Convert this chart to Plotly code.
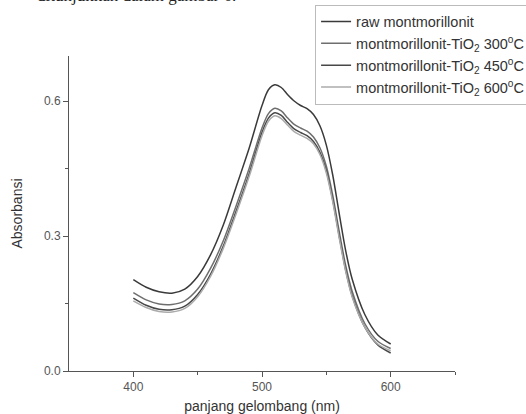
import plotly.graph_objects as go

wavelength = [400, 410, 420, 430, 440, 450, 460, 470, 480, 490, 500, 505, 510, 515, 520,
              525, 530, 535, 540, 545, 550, 555, 560, 565, 570, 580, 590, 600]

raw = [0.203, 0.186, 0.176, 0.173, 0.182, 0.210, 0.258, 0.325, 0.410, 0.495, 0.590, 0.625, 0.636, 0.630, 0.614,
       0.600, 0.590, 0.583, 0.570, 0.545, 0.502, 0.435, 0.350, 0.268, 0.205, 0.125, 0.080, 0.060]
tio2_300 = [0.174, 0.158, 0.149, 0.148, 0.156, 0.182, 0.228, 0.290, 0.368, 0.450, 0.540, 0.572, 0.584, 0.578, 0.562,
            0.548, 0.540, 0.533, 0.520, 0.496, 0.455, 0.390, 0.310, 0.235, 0.178, 0.105, 0.066, 0.050]
tio2_450 = [0.162, 0.146, 0.137, 0.136, 0.144, 0.170, 0.215, 0.278, 0.356, 0.438, 0.530, 0.562, 0.574, 0.568, 0.552,
            0.538, 0.530, 0.523, 0.510, 0.486, 0.445, 0.380, 0.300, 0.225, 0.168, 0.097, 0.058, 0.040]
tio2_600 = [0.156, 0.141, 0.132, 0.131, 0.139, 0.165, 0.210, 0.273, 0.350, 0.432, 0.523, 0.555, 0.567, 0.561, 0.546,
            0.532, 0.524, 0.517, 0.505, 0.481, 0.440, 0.376, 0.296, 0.222, 0.165, 0.097, 0.060, 0.045]

series_names = ["raw montmorillonit",
                "montmorillonit-TiO<sub>2</sub> 300<sup>o</sup>C",
                "montmorillonit-TiO<sub>2</sub> 450<sup>o</sup>C",
                "montmorillonit-TiO<sub>2</sub> 600<sup>o</sup>C"]
series_values = [raw, tio2_300, tio2_450, tio2_600]
series_colors = ["#3a3a3a", "#6e6e6e", "#484848", "#ababab"]

x_ticks = [400, 500, 600]
y_ticks = [0.0, 0.3, 0.6]
y_tick_labels = ["0.0", "0.3", "0.6"]

fig = go.Figure()
for name, vals, col in zip(series_names, series_values, series_colors):
    fig.add_trace(go.Scatter(x=wavelength, y=vals, mode="lines", name=name,
                             line=dict(color=col, width=1.5, shape="spline", smoothing=0.8)))

font_family = "Liberation Sans, Arial, sans-serif"
axis_color = "#555555"

fig.update_layout(
    width=526, height=414,
    margin=dict(l=69, r=71, t=56, b=43, autoexpand=False),
    paper_bgcolor="white", plot_bgcolor="white",
    font=dict(family=font_family, color="#444444", size=12),
    showlegend=True,
    legend=dict(x=0.599, y=0.989, xref="container", yref="container",
                xanchor="left", yanchor="top",
                bgcolor="white", bordercolor="#bbbbbb", borderwidth=1,
                font=dict(size=14.5, color="#333333", family=font_family),
                tracegroupgap=0),
    xaxis=dict(range=[350, 650], tickvals=x_ticks, ticktext=[str(v) for v in x_ticks],
               ticks="outside", ticklen=5, tickcolor=axis_color, showline=True, linecolor=axis_color,
               linewidth=1, showgrid=False, zeroline=False, mirror=False, automargin=False,
               tickfont=dict(size=12, color="#555555"),
               minor=dict(tickvals=[450, 550, 650], ticks="outside", ticklen=3, tickcolor=axis_color),
               title=dict(text="panjang gelombang (nm)", font=dict(size=14, color="#333333"), standoff=8)),
    yaxis=dict(range=[0, 0.7], tickvals=y_ticks, ticktext=y_tick_labels,
               ticks="outside", ticklen=5, tickcolor=axis_color, showline=True, linecolor=axis_color,
               linewidth=1, showgrid=False, zeroline=False, mirror=False, automargin=False,
               tickfont=dict(size=12, color="#555555"),
               minor=dict(tickvals=[0.15, 0.45], ticks="outside", ticklen=3, tickcolor=axis_color),
               title=dict(text="Absorbansi", font=dict(size=14, color="#333333"), standoff=18)),
)

fig.add_annotation(text="ditunjukkan dalam gambar 6.", xref="paper", yref="paper",
                   x=0.438, y=1.1556, xanchor="right", yanchor="bottom", showarrow=False,
                   font=dict(family="Liberation Serif, Times New Roman, serif", size=17, color="#222222"))

fig.write_html("out.html", config={"displayModeBar": False},
               post_script="document.body.style.margin='0';")
